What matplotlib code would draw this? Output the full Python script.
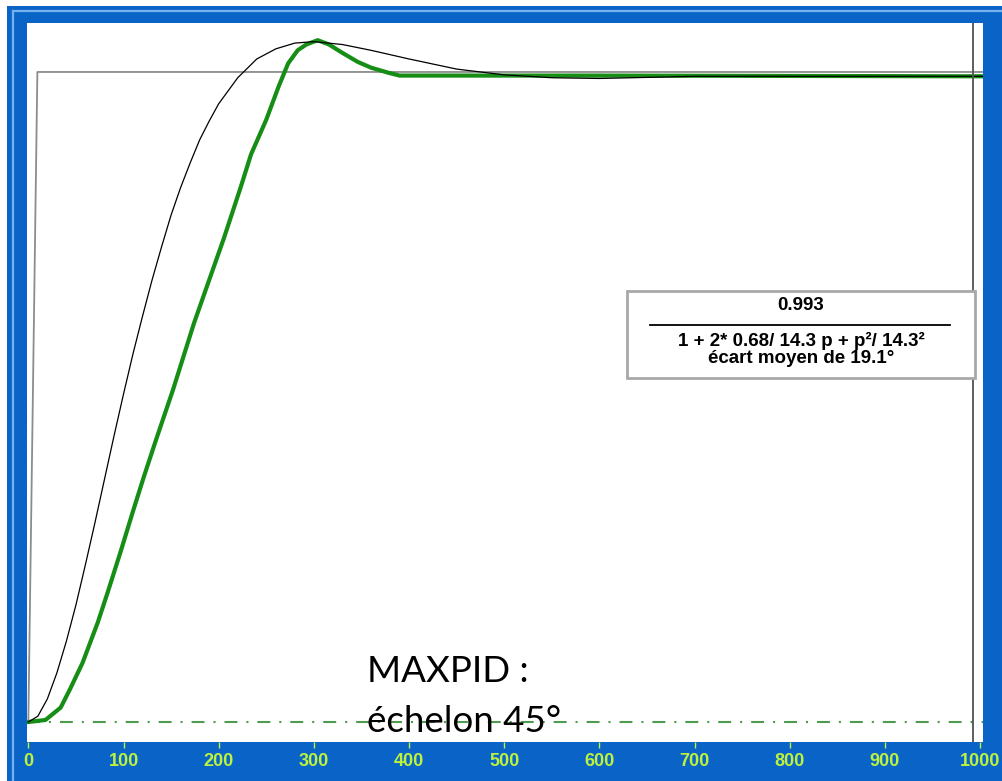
import matplotlib
matplotlib.use('Agg')
import matplotlib.pyplot as plt
from matplotlib.patches import Rectangle
from matplotlib.lines import Line2D

# consigne (échelon 45°)
t_step = [0, 9.5, 1003]
step_deg = [0, 45, 45]

# modèle du 2e ordre (courbe noire)
t_model = [0, 10, 20, 30, 40, 50, 60, 70, 80, 90, 100, 110, 120, 130, 140, 150,
           160, 170, 180, 190, 200, 220, 240, 260, 280, 300, 330, 360, 400, 450,
           500, 550, 600, 700, 1003]
model_deg = [0, 0.4, 1.6, 3.4, 5.6, 8.1, 10.9, 13.8, 16.8, 19.8, 22.7, 25.5, 28.1,
             30.6, 32.9, 35.1, 37.0, 38.7, 40.3, 41.6, 42.8, 44.6, 45.9, 46.6, 47.0,
             47.1, 46.9, 46.5, 45.9, 45.2, 44.8, 44.6, 44.55, 44.7, 44.7]

# réponse mesurée MAXPID (courbe verte)
t_meas = [0, 18, 34, 44, 57, 73, 83, 97, 110, 121, 134, 152, 174, 190, 205,
          223, 234, 250, 263, 273, 283, 292, 304, 316, 328, 346, 360, 378, 390, 600, 1003]
meas_deg = [0, 0.14, 1.0, 2.3, 4.1, 6.9, 8.9, 11.8, 14.6, 16.9, 19.5, 23.0,
            27.6, 30.6, 33.4, 37.0, 39.3, 41.7, 44.0, 45.6, 46.5, 46.9, 47.2, 46.9,
            46.4, 45.7, 45.3, 44.95, 44.75, 44.75, 44.7]

t_cursor = 992
x_ticks = [0, 100, 200, 300, 400, 500, 600, 700, 800, 900, 1000]

W, H = 1002, 781
fig = plt.figure(figsize=(W / 100, H / 100), dpi=100)
fig.patch.set_facecolor('white')

# cadre bleu
fig.patches.append(Rectangle((7 / W, 0), 1 - 7 / W, 1 - 6 / H, transform=fig.transFigure,
                             facecolor='#0a64c8', edgecolor='none', zorder=-10))
fig.lines.append(Line2D([13 / W, 13 / W], [0, 1 - 11 / H], transform=fig.transFigure,
                        color='#78b0ee', lw=1.6, zorder=-9))
fig.lines.append(Line2D([13 / W, 1], [1 - 11 / H, 1 - 11 / H], transform=fig.transFigure,
                        color='#78b0ee', lw=1.6, zorder=-9))

ax = fig.add_axes([27 / W, 1 - 742 / H, 956 / W, 719 / H])
ax.set_zorder(5)
ax.set_facecolor('white')
for s in ax.spines.values():
    s.set_visible(False)

ax.plot(t_step, step_deg, color='#8c8c8c', lw=1.3)
ax.axhline(0, color='#4e9a4e', lw=1.5, dashes=(6.2, 4.3, 1.0, 4.3))
ax.plot(t_meas, meas_deg, color='#168e16', lw=3.0, solid_joinstyle='round')
ax.plot(t_model, model_deg, color='black', lw=0.9)
ax.axvline(t_cursor, color='#505050', lw=1.3)

ax.set_xlim(-1.4, 1003)
ax.set_ylim(-1.385, 48.39)
ax.set_yticks([])
ax.set_xticks(x_ticks)
ax.set_xticklabels([str(v) for v in x_ticks])
ax.tick_params(axis='x', direction='out', length=4, width=1, color='#bdf23c',
               labelcolor='#bdf23c', pad=4)
for lab in ax.get_xticklabels():
    lab.set_fontfamily('Liberation Sans')
    lab.set_fontweight('bold')
    lab.set_fontsize(13)

# cartouche de la fonction de transfert
ax.add_patch(Rectangle((0.6276, 0.5063), 0.364, 0.121, transform=ax.transAxes,
                       facecolor='white', edgecolor='#a8a8a8', lw=2, zorder=5))
ax.plot([0.6517, 0.9655], [0.58, 0.58], transform=ax.transAxes, color='black', lw=1.3, zorder=6)
fkw = dict(transform=ax.transAxes, ha='center', va='center', fontfamily='Liberation Sans',
           fontweight='bold', fontsize=13.5, zorder=7)
ax.text(0.8096, 0.6064, '0.993', **fkw)
ax.text(0.8096, 0.5580, '1 + 2* 0.68/ 14.3 p + p²/ 14.3²', **fkw)
ax.text(0.8096, 0.5340, 'écart moyen de 19.1°', **fkw)

tkw = dict(transform=ax.transAxes, ha='left', va='baseline', fontfamily='Lato',
           fontsize=26.5, color='black', zorder=8)
ax.text(0.3556, 0.0834, 'MAXPID :', **tkw)
ax.text(0.3556, 0.0139, 'échelon 45°', **tkw)

fig.savefig('out.png', dpi=100)
